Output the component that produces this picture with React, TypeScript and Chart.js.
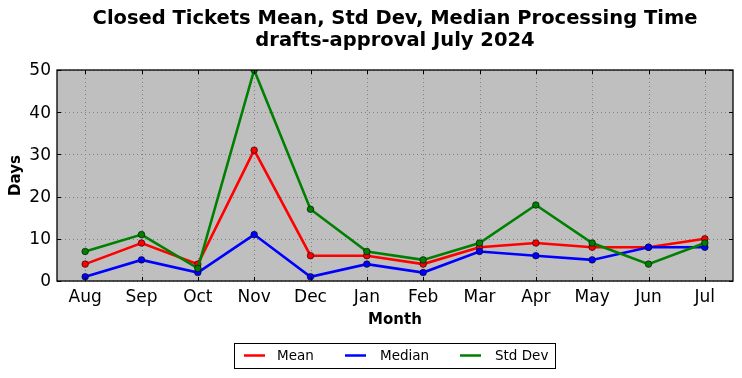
import React, { useEffect, useRef } from "react";
import { Chart, registerables } from "chart.js";

Chart.register(...registerables);

const months = ["Aug", "Sep", "Oct", "Nov", "Dec", "Jan", "Feb", "Mar", "Apr", "May", "Jun", "Jul"];
const meanValues = [4, 9, 4, 31, 6, 6, 4, 8, 9, 8, 8, 10];
const medianValues = [1, 5, 2, 11, 1, 4, 2, 7, 6, 5, 8, 8];
const stdDevValues = [7, 11, 3, 50, 17, 7, 5, 9, 18, 9, 4, 9];
const titleLines = ["Closed Tickets Mean, Std Dev, Median Processing Time", "drafts-approval July 2024"];
const legendLabels = ["Mean", "Median", "Std Dev"];
const seriesColors = ["#ff0000", "#0000ff", "#008000"];

const FONT = "'DejaVu Sans', sans-serif";

const decorPlugin = {
  id: "decor",
  beforeDatasetsDraw(chart: any) {
    const { ctx, chartArea: a, scales } = chart;
    ctx.save();
    ctx.fillStyle = "#bfbfbf";
    ctx.fillRect(a.left, a.top, a.right - a.left, a.bottom - a.top);
    ctx.strokeStyle = "#7f7f7f";
    ctx.lineWidth = 1;
    ctx.setLineDash([1, 3]);
    const x = scales.x;
    const y = scales.y;
    x.ticks.forEach((_: any, i: number) => {
      const px = Math.round(x.getPixelForTick(i)) + 0.5;
      ctx.beginPath();
      ctx.moveTo(px, a.top);
      ctx.lineTo(px, a.bottom);
      ctx.stroke();
    });
    y.ticks.forEach((_: any, i: number) => {
      const py = Math.round(y.getPixelForTick(i)) + 0.5;
      ctx.beginPath();
      ctx.moveTo(a.left, py);
      ctx.lineTo(a.right, py);
      ctx.stroke();
    });
    ctx.restore();
  },
  afterDraw(chart: any) {
    const { ctx, chartArea: a, scales } = chart;
    ctx.save();
    ctx.setLineDash([]);
    ctx.strokeStyle = "#000";
    ctx.lineWidth = 1;
    const x = scales.x;
    const y = scales.y;
    x.ticks.forEach((_: any, i: number) => {
      const px = Math.round(x.getPixelForTick(i)) + 0.5;
      ctx.beginPath();
      ctx.moveTo(px, a.bottom);
      ctx.lineTo(px, a.bottom - 4);
      ctx.moveTo(px, a.top);
      ctx.lineTo(px, a.top + 4);
      ctx.stroke();
    });
    y.ticks.forEach((_: any, i: number) => {
      const py = Math.round(y.getPixelForTick(i)) + 0.5;
      ctx.beginPath();
      ctx.moveTo(a.left, py);
      ctx.lineTo(a.left + 4, py);
      ctx.moveTo(a.right, py);
      ctx.lineTo(a.right - 4, py);
      ctx.stroke();
    });
    ctx.lineWidth = 1.3;
    ctx.strokeRect(a.left, a.top, a.right - a.left, a.bottom - a.top);

    const cx = (a.left + a.right) / 2;
    ctx.fillStyle = "#000";
    ctx.textAlign = "center";
    ctx.textBaseline = "middle";
    ctx.font = `bold 19.5px ${FONT}`;
    ctx.fillText(titleLines[0], cx, 19);
    ctx.fillText(titleLines[1], cx, 41);

    ctx.font = `bold 15px ${FONT}`;
    ctx.fillText("Month", cx, 320);
    ctx.save();
    ctx.translate(16, (a.top + a.bottom) / 2);
    ctx.rotate(-Math.PI / 2);
    ctx.fillText("Days", 0, 0);
    ctx.restore();

    const lx0 = 234.5, ly0 = 343.5, lw = 321, lh = 25;
    ctx.fillStyle = "#fff";
    ctx.fillRect(lx0, ly0, lw, lh);
    ctx.strokeStyle = "#000";
    ctx.lineWidth = 1;
    ctx.strokeRect(lx0, ly0, lw, lh);
    const lineStarts = [244, 345, 460];
    const textStarts = [277, 380, 495];
    ctx.font = `13.5px ${FONT}`;
    ctx.textAlign = "left";
    legendLabels.forEach((lab, i) => {
      ctx.strokeStyle = seriesColors[i];
      ctx.lineWidth = 2.5;
      ctx.beginPath();
      ctx.moveTo(lineStarts[i], 355.5);
      ctx.lineTo(lineStarts[i] + 21, 355.5);
      ctx.stroke();
      ctx.fillStyle = "#000";
      ctx.fillText(lab, textStarts[i], 356);
    });
    ctx.restore();
  },
};

export default function App() {
  const ref = useRef<HTMLCanvasElement>(null);
  useEffect(() => {
    document.body.style.margin = "0";
    const mk = (label: string, data: number[], color: string, order: number) => ({
      label,
      data,
      borderColor: color,
      backgroundColor: color,
      pointBackgroundColor: color,
      pointBorderColor: "#000",
      pointBorderWidth: 0.6,
      pointRadius: 3.3,
      borderWidth: 2.6,
      tension: 0,
      order,
    });
    const chart = new Chart(ref.current!, {
      type: "line",
      data: {
        labels: months,
        datasets: [
          mk(legendLabels[0], meanValues, seriesColors[0], 2),
          mk(legendLabels[1], medianValues, seriesColors[1], 1),
          mk(legendLabels[2], stdDevValues, seriesColors[2], 0),
        ],
      },
      options: {
        responsive: false,
        animation: false,
        devicePixelRatio: 1,
        layout: { padding: { top: 70, right: 9, left: 0, bottom: 0 } },
        plugins: { legend: { display: false }, title: { display: false }, tooltip: { enabled: false } },
        scales: {
          x: {
            type: "category",
            offset: true,
            grid: { display: false, drawTicks: false },
            border: { display: false },
            ticks: { color: "#000", font: { family: FONT, size: 17 }, padding: 6, maxRotation: 0, autoSkip: false },
            afterFit: (s: any) => { s.height = 97; },
          },
          y: {
            min: 0,
            max: 50,
            grid: { display: false, drawTicks: false },
            border: { display: false },
            ticks: { stepSize: 10, color: "#000", font: { family: FONT, size: 17 }, padding: 6, labelOffset: 1 },
            afterFit: (s: any) => { s.width = 57; },
          },
        },
      },
      plugins: [decorPlugin],
    });
    return () => chart.destroy();
  }, []);
  return (
    <div style={{ width: 742, height: 378, position: "absolute", left: 0, top: 0, background: "#fff" }}>
      <canvas ref={ref} width={742} height={378} />
    </div>
  );
}
